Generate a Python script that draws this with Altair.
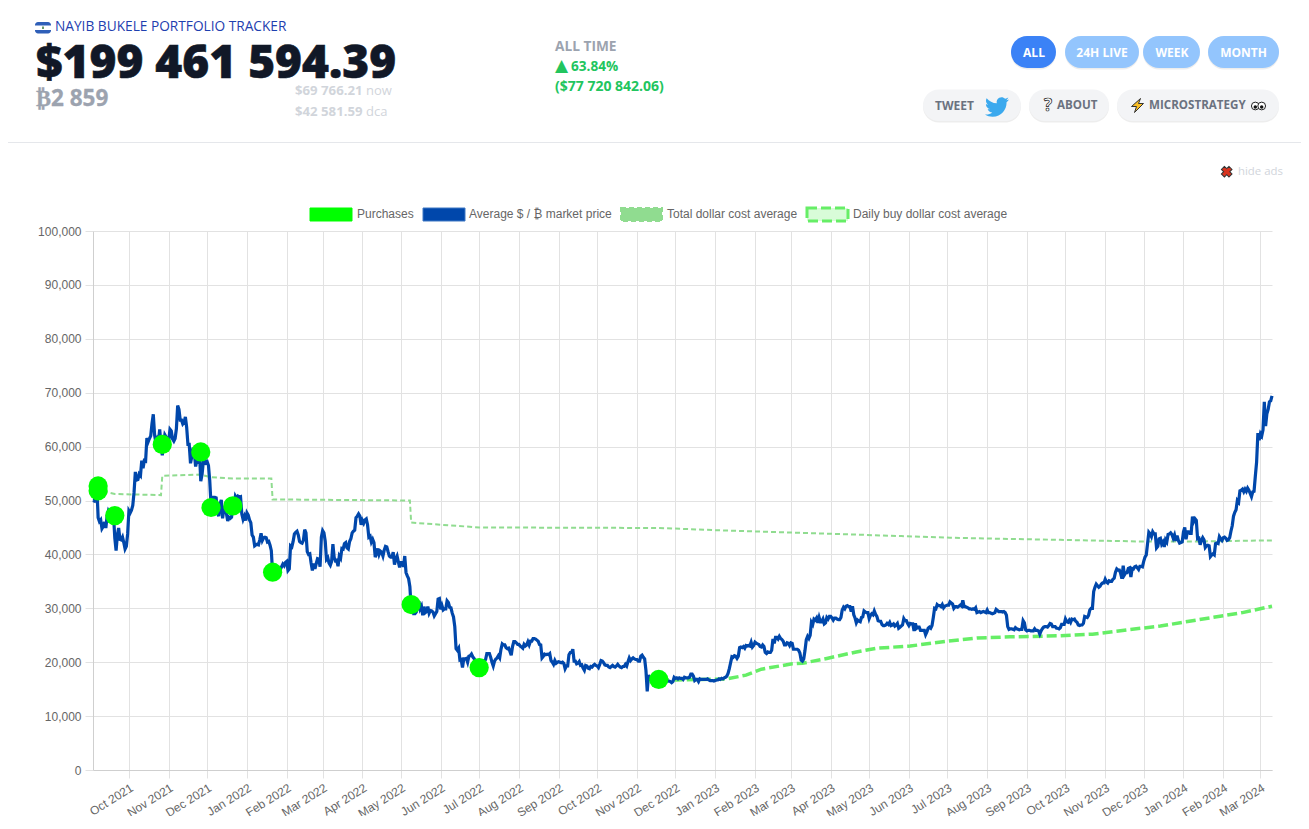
import altair as alt
import pandas as pd

# ---------- data (thousands of $) ----------
p_2021_sep = [50.0,49.9,51.8,52.7,46.8,46.1,46.4,44.8,45.2,46.0,44.9,47.1,48.1,47.7,47.3,48.3,47.3,43.0,40.7,43.6,44.9,42.8,42.7,43.2,42.2,41.0,41.5,43.8]
p_2021_oct = [48.1,47.7,48.2,49.1,51.5,55.3,53.8,53.9,54.9,54.6,57.4,56.0,57.4,57.3,61.6,60.9,61.5,62.0,64.3,66.0,62.2,60.7,61.4,60.8,63.2,60.3,58.4,60.6,62.2,61.8,61.3]
p_2021_nov = [61.0,63.2,62.9,61.4,61.0,61.5,63.3,67.6,66.9,64.9,64.9,64.2,64.5,65.5,63.6,60.4,60.4,56.9,58.1,59.8,58.7,56.3,57.5,57.2,58.9,53.6,54.8,57.2,57.8,57.0]
p_2021_dec = [57.2,56.5,53.7,49.2,49.4,50.6,50.6,50.5,47.7,47.1,49.3,50.1,46.7,48.4,48.9,47.6,46.2,46.9,46.7,46.9,49.0,48.9,50.8,50.4,50.8,50.6,50.7,47.5,46.5,47.1,46.3]
p_2022_jan = [47.7,47.3,46.4,45.9,43.6,43.2,41.6,41.8,41.9,41.8,42.7,43.9,42.6,43.1,43.2,43.1,42.3,42.4,41.7,40.7,36.5,35.1,36.3,36.7,37.0,36.8,37.2,37.7,38.2,37.9,38.5]
p_2022_feb = [38.7,37.0,37.3,41.6,41.4,42.4,43.8,44.1,44.3,43.6,42.4,42.2,42.1,42.6,44.6,44.0,40.5,40.0,40.1,38.4,37.0,38.3,37.3,38.3,39.2,39.1,37.7,43.2]
p_2022_mar = [44.4,44.0,42.5,39.1,39.4,38.4,38.0,38.7,41.9,39.4,38.8,38.9,37.8,39.7,39.3,41.1,41.0,42.0,42.2,41.2,41.0,42.4,42.9,44.0,44.3,44.5,46.8,47.1,47.5,47.1,45.5]
p_2022_apr = [46.3,45.8,46.4,46.6,45.5,43.2,43.4,42.3,42.8,42.2,39.5,40.1,41.1,40.0,40.6,40.4,39.7,40.8,41.5,41.4,40.5,39.7,39.5,39.5,40.4,38.1,39.2,39.7,38.6,37.6]
p_2022_may = [38.5,38.5,37.7,39.7,36.6,36.0,35.5,34.0,30.1,31.0,29.0,29.0,29.3,30.1,31.3,29.9,30.4,28.7,30.3,29.2,29.4,30.3,29.1,29.6,29.5,29.3,28.6,29.0,29.4,31.7,31.8]
p_2022_jun = [29.8,30.5,29.7,29.9,29.9,31.4,31.1,30.2,30.1,29.1,28.4,26.6,22.5,22.2,22.6,20.4,20.5,19.0,20.6,20.6,20.7,20.0,21.1,21.2,21.5,21.0,20.7,20.3,20.1,19.0]
p_2022_jul = [19.3,19.3,19.3,20.2,20.2,20.5,21.6,21.6,21.6,20.9,20.0,19.3,20.2,20.6,20.8,21.2,20.8,22.4,23.4,23.2,23.2,22.7,22.5,22.6,22.0,21.3,22.9,23.8,23.8,23.6,23.3]
p_2022_aug = [23.3,23.0,22.8,22.6,23.3,23.0,23.2,23.8,23.2,23.9,23.9,24.4,24.4,24.3,24.1,23.9,23.3,23.2,20.8,21.1,21.5,21.4,21.5,21.4,21.6,20.3,20.0,19.6,20.3,19.8,20.0]
p_2022_sep = [20.1,20.0,19.9,20.0,19.8,18.8,19.3,19.3,21.4,21.8,21.8,22.4,20.2,20.2,19.7,19.8,20.1,19.4,19.5,18.9,18.5,19.4,19.3,18.9,18.8,19.2,19.1,19.4,19.6,19.4]
p_2022_oct = [19.3,19.0,19.6,20.3,20.2,19.9,19.5,19.4,19.4,19.1,19.0,19.2,19.4,19.2,19.1,19.3,19.6,19.3,19.1,19.0,19.2,19.2,19.6,19.3,20.1,20.8,20.3,20.6,20.8,20.6,20.5]
p_2022_nov = [20.5,20.2,20.2,21.1,21.3,20.9,20.6,18.5,14.6,17.6,17.0,16.8,16.3,16.6,16.9,16.7,16.7,16.7,16.7,16.3,15.8,16.2,16.6,16.6,16.5,16.5,16.4,16.2,16.4,17.2]
p_2022_dec = [17.0,17.1,16.9,17.1,17.0,17.0,16.8,17.2,17.1,17.1,17.1,17.2,17.8,17.8,17.4,16.6,16.8,16.8,16.4,16.9,16.8,16.8,16.8,16.8,16.8,16.9,16.7,16.6,16.6,16.6,16.5]
p_2023_jan = [16.6,16.7,16.7,16.9,16.8,17.0,16.9,17.1,17.2,17.4,17.9,18.8,19.9,21.0,20.9,21.2,21.1,20.7,21.1,22.7,22.8,22.7,22.9,22.6,23.1,23.0,23.1,23.0,23.7,22.8,23.1]
p_2023_feb = [23.7,23.5,23.4,23.3,22.9,22.8,23.2,22.9,21.8,21.6,21.9,21.8,21.8,22.2,24.3,23.5,24.6,24.6,24.3,24.8,24.4,24.2,23.9,23.2,23.2,23.6,23.5,23.1]
p_2023_mar = [23.6,23.5,22.4,22.4,22.4,22.4,22.2,21.7,20.4,20.2,20.6,22.2,24.2,24.8,24.4,25.0,27.4,27.0,28.0,27.8,28.2,27.3,28.3,27.5,27.5,28.0,27.1,27.3,28.3,28.0,28.5]
p_2023_apr = [28.5,28.2,27.8,28.2,28.2,28.0,27.9,27.9,28.3,29.7,30.2,29.9,30.4,30.5,30.3,30.3,29.4,30.4,28.8,28.2,27.3,27.8,27.6,27.5,28.3,28.4,29.5,29.3,29.2,29.2]
p_2023_may = [28.1,28.7,29.0,28.8,29.5,28.9,28.5,27.7,27.6,27.6,27.0,26.8,26.8,26.9,27.2,27.0,27.4,26.8,26.9,27.1,26.7,26.9,27.2,26.3,26.5,26.7,26.9,28.1,27.7,27.7,27.2]
p_2023_jun = [26.8,27.2,27.1,27.1,25.8,27.2,26.3,26.5,26.5,25.9,25.9,25.9,25.9,25.1,25.6,26.3,26.5,26.3,26.8,28.3,30.0,29.9,30.7,30.5,30.5,30.3,30.7,30.1,30.4,30.5]
p_2023_jul = [30.6,30.6,31.2,31.0,30.8,30.0,30.3,30.3,30.2,30.4,30.6,30.4,31.5,30.3,30.3,30.2,30.1,29.9,29.9,29.8,29.9,29.8,30.1,29.2,29.3,29.4,29.2,29.3,29.4,29.3,29.2]
p_2023_aug = [29.7,29.2,29.2,29.1,29.0,29.1,29.2,29.8,29.6,29.4,29.4,29.4,29.3,29.4,29.2,28.7,26.6,26.1,26.2,26.2,26.1,26.0,26.4,26.2,26.1,26.0,26.1,26.1,27.7,27.3,26.0]
p_2023_sep = [25.8,25.9,25.9,25.8,25.8,25.8,26.2,25.9,25.9,25.8,25.2,25.8,26.2,26.5,26.6,26.6,26.5,26.8,27.2,27.1,26.6,26.6,26.6,26.3,26.3,26.2,26.4,27.0,27.0,27.0]
p_2023_oct = [28.0,27.5,27.4,27.8,27.4,28.0,27.9,28.0,27.6,27.4,26.9,26.8,26.9,26.9,27.2,28.5,28.4,28.3,28.7,29.7,30.0,30.0,33.1,33.9,34.5,34.2,33.9,34.1,34.5,34.7,34.7]
p_2023_nov = [35.4,34.9,34.7,35.1,35.0,35.0,35.4,35.6,36.7,37.3,37.1,37.1,36.5,35.5,37.9,36.2,36.6,36.6,37.4,37.5,35.8,37.4,37.3,37.7,37.8,37.5,37.2,37.8,37.8,37.7]
p_2023_dec = [38.7,39.5,39.9,42.0,44.1,43.8,43.3,44.2,43.8,43.8,41.2,41.5,42.9,43.0,41.9,42.3,41.4,42.7,42.3,43.7,43.8,44.0,43.7,43.0,43.6,42.5,43.5,42.6,42.1,42.2,42.3]
p_2024_jan = [44.2,45.0,42.8,44.2,44.2,43.9,43.9,47.0,46.1,46.6,46.3,42.9,43.0,41.8,42.6,43.1,42.7,41.3,41.6,41.7,41.6,39.6,39.9,40.1,39.9,42.0,42.1,42.0,43.3,42.9,42.6]
p_2024_feb = [43.1,43.2,43.0,42.6,42.7,43.1,44.3,45.3,47.1,47.8,48.3,50.0,49.7,51.8,51.9,52.1,51.6,52.1,51.7,52.3,51.9,51.3,50.7,51.6,51.7,54.5,57.1,62.5,61.2]
p_2024_mar = [62.4,62.0,63.1,68.3,63.8,66.1,66.9,68.3,68.5,69.4]

price_k = (p_2021_sep+p_2021_oct+p_2021_nov+p_2021_dec+p_2022_jan+p_2022_feb+p_2022_mar+p_2022_apr+p_2022_may+p_2022_jun
           +p_2022_jul+p_2022_aug+p_2022_sep+p_2022_oct+p_2022_nov+p_2022_dec+p_2023_jan+p_2023_feb+p_2023_mar+p_2023_apr
           +p_2023_may+p_2023_jun+p_2023_jul+p_2023_aug+p_2023_sep+p_2023_oct+p_2023_nov+p_2023_dec+p_2024_jan+p_2024_feb+p_2024_mar)

purchase_dates = ["2021-09-07","2021-09-07","2021-09-20","2021-10-27","2021-11-26","2021-12-04","2021-12-21","2022-01-21","2022-05-09","2022-07-01","2022-11-18"]
purchase_k = [52.7,51.8,47.2,60.4,59.0,48.7,49.0,36.7,30.7,19.0,16.8]

total_dates = ["2021-09-07","2021-09-08","2021-09-20","2021-10-26","2021-10-27","2021-11-26","2021-12-04","2021-12-21","2022-01-20","2022-01-21","2022-05-08","2022-05-09","2022-07-01","2022-11-18","2023-01-01","2023-01-27","2023-03-08","2023-04-17","2023-05-26","2023-07-03","2023-08-11","2023-09-27","2023-11-28","2024-01-13","2024-03-10"]
total_k = [52.7,51.9,51.2,51.0,54.6,54.8,54.3,54.1,54.1,50.2,50.0,45.9,45.0,44.9,44.5,44.3,44.0,43.7,43.4,43.1,42.9,42.7,42.4,42.4,42.6]

daily_dates = ["2022-11-18","2022-12-02","2023-01-10","2023-01-25","2023-02-06","2023-03-02","2023-03-10","2023-03-29","2023-04-21","2023-05-07","2023-06-02","2023-07-01","2023-07-24","2023-08-19","2023-09-27","2023-10-22","2023-11-18","2023-12-14","2024-01-08","2024-02-03","2024-02-16","2024-03-10"]
daily_k = [16.8,16.7,16.9,17.6,18.7,19.7,19.8,20.7,21.9,22.6,23.0,23.9,24.5,24.7,24.9,25.2,26.0,26.7,27.7,28.7,29.2,30.4]

month_ticks = [d.strftime("%Y-%m-%d") for d in pd.date_range("2021-10-01", "2024-03-01", freq="MS")]
y_ticks = list(range(0, 100001, 10000))

# ---------- styles ----------
UI = "Open Sans"
CHART = "Liberation Sans"
GRID = "#e2e2e2"
BLUE = "#0047ab"
LIME = "#00ff00"
DCA = "#90dc90"
DAILY = "#66ee66"

price_df = pd.DataFrame({"date": pd.date_range("2021-09-03", periods=len(price_k)).strftime("%Y-%m-%d"),
                         "v": [v * 1000 for v in price_k]})
purch_df = pd.DataFrame({"date": purchase_dates, "v": [v * 1000 for v in purchase_k]})
total_df = pd.DataFrame({"date": total_dates, "v": [v * 1000 for v in total_k]})
daily_df = pd.DataFrame({"date": daily_dates, "v": [v * 1000 for v in daily_k]})

x_enc = alt.X("date:T", title=None,
              scale=alt.Scale(domain=["2021-09-03", "2024-03-10"], nice=False),
              axis=alt.Axis(values=month_ticks, format="%b %Y", labelAngle=-32, labelAlign="right",
                            labelBaseline="top", labelFont=CHART, labelFontSize=12, labelColor="#666666",
                            labelPadding=4, labelOverlap=False, labelFlush=False, tickSize=8, tickColor=GRID,
                            domainColor="#cfcfcf", gridColor=GRID, grid=True))
y_enc = alt.Y("v:Q", title=None,
              scale=alt.Scale(domain=[0, 100000], nice=False),
              axis=alt.Axis(values=y_ticks, format=",d", labelFont=CHART, labelFontSize=12, labelColor="#666666",
                            labelPadding=4, tickSize=8, tickColor=GRID, domainColor="#cfcfcf",
                            gridColor=GRID, grid=True))

total_line = alt.Chart(total_df).mark_line(color=DCA, strokeWidth=2, strokeDash=[5, 3]).encode(x=x_enc, y=y_enc)
daily_line = alt.Chart(daily_df).mark_line(color=DAILY, strokeWidth=3.5, strokeDash=[10, 4]).encode(x=x_enc, y=y_enc)
price_line = alt.Chart(price_df).mark_line(color=BLUE, strokeWidth=3.2).encode(x=x_enc, y=y_enc)
purch_dots = alt.Chart(purch_df).mark_circle(color=LIME, size=370, opacity=1).encode(x=x_enc, y=y_enc)

ONE = alt.Data(values=[{"a": 1}])
PX, PY = 93, 231


def txt(s, x, y, size, color, weight="normal", font=UI, align="left", **kw):
    return alt.Chart(ONE).mark_text(text=s, align=align, baseline="middle", fontSize=size, color=color,
                                    fontWeight=weight, font=font, **kw).encode(
        x=alt.value(x - PX), y=alt.value(y - PY))


def box(x, x2, y, y2, fill, radius=0, **kw):
    return alt.Chart(ONE).mark_rect(fill=fill, cornerRadius=radius, **kw).encode(
        x=alt.value(x - PX), x2=alt.value(x2 - PX), y=alt.value(y - PY), y2=alt.value(y2 - PY))


def sym(shape, x, y, size, fill, **kw):
    return alt.Chart(ONE).mark_point(shape=shape, filled=True, fill=fill, size=size, opacity=1, **kw).encode(
        x=alt.value(x - PX), y=alt.value(y - PY))


def button(x, x2, y, y2, fill):
    return [box(x, x2, y + 1.5, y2 + 1.5, "#000000", 16, opacity=0.07), box(x, x2, y, y2, fill, 16)]


BIRD = ("M23.953 4.57a10 10 0 0 1-2.825.775 4.958 4.958 0 0 0 2.163-2.723c-.951.555-2.005.959-3.127 1.184"
        "a4.92 4.92 0 0 0-8.384 4.482C7.69 8.095 4.067 6.13 1.64 3.162a4.822 4.822 0 0 0-.666 2.475"
        "c0 1.71.87 3.213 2.188 4.096a4.904 4.904 0 0 1-2.228-.616v.06a4.923 4.923 0 0 0 3.946 4.827"
        " 4.996 4.996 0 0 1-2.212.085 4.936 4.936 0 0 0 4.604 3.417 9.867 9.867 0 0 1-6.102 2.105"
        "c-.39 0-.779-.023-1.17-.067a13.995 13.995 0 0 0 7.557 2.209c9.053 0 13.998-7.496 13.998-13.985"
        " 0-.21 0-.42-.015-.63A9.935 9.935 0 0 0 24 4.59z")
BOLT = "M3 -7 L-6 1 L-1 1 L-3 7 L6 -2 L1 -2 Z"

chrome = []
# header
chrome += [box(35, 51, 22, 33.5, "#2f5fb8", 3), box(35, 51, 25.5, 30, "#ffffff"), box(42, 44, 26.5, 29, "#6a9a6a")]
chrome += [txt("NAYIB BUKELE PORTFOLIO TRACKER", 55, 26.5, 13.7, "#1e40af")]
chrome += [txt("$199 461 594.39", 36, 63.5, 46, "#111827", weight=800, stroke="#111827", strokeWidth=0.6)]
chrome += [txt("₿2 859", 36, 98.5, 22.5, "#9ca3af", weight="bold", stroke="#9ca3af", strokeWidth=0.3)]
chrome += [txt("$69 766.21", 295, 91, 13.2, "#d1d5db", weight="bold"), txt("now", 366, 91, 13, "#d1d5db")]
chrome += [txt("$42 581.59", 295, 112, 13.2, "#d1d5db", weight="bold"), txt("dca", 366, 112, 13, "#d1d5db")]
chrome += [txt("ALL TIME", 555, 46.5, 13.7, "#9ca3af", weight="bold"),
           txt("▲", 555, 66, 17, "#22c55e", weight="bold", font="DejaVu Sans"),
           txt("63.84%", 571, 66.5, 13.6, "#22c55e", weight="bold"),
           txt("($77 720 842.06)", 555, 86.5, 14, "#22c55e", weight="bold")]
# buttons
chrome += button(1011, 1056, 36, 68, "#3b82f6") + [txt("ALL", 1034, 52.5, 12, "#ffffff", weight="bold", align="center")]
chrome += button(1065, 1139, 36, 68, "#93c5fd") + [txt("24H LIVE", 1102, 52.5, 12, "#ffffff", weight="bold", align="center")]
chrome += button(1143, 1200, 36, 68, "#93c5fd") + [txt("WEEK", 1172, 52.5, 12, "#ffffff", weight="bold", align="center")]
chrome += button(1208, 1279, 36, 68, "#93c5fd") + [txt("MONTH", 1243.5, 52.5, 12, "#ffffff", weight="bold", align="center")]
chrome += button(923, 1021, 89.5, 121, "#f3f4f6") + [txt("TWEET", 935, 105.5, 12, "#6b7280", weight="bold"),
                                                     sym(BIRD, 985, 95, 4, "#3ba9ee", strokeWidth=0)]
chrome += button(1029, 1109, 89.5, 121, "#f3f4f6") + [txt("?", 1048, 105.5, 17, "#ffffff", weight="bold", stroke="#222222", strokeWidth=0.7, align="center"),
                                                      txt("ABOUT", 1057, 105.5, 11.6, "#6b7280", weight="bold")]
chrome += button(1117, 1279, 89.5, 121, "#f3f4f6") + [sym(BOLT, 1137.5, 105.5, 4, "#fbbf24", stroke="#333333", strokeWidth=1),
                                                      txt("MICROSTRATEGY", 1149, 105.5, 11.6, "#6b7280", weight="bold"),
                                                      sym("circle", 1255.3, 106, 60, "#ffffff", stroke="#222222", strokeWidth=1),
                                                      sym("circle", 1261.7, 106, 60, "#ffffff", stroke="#222222", strokeWidth=1),
                                                      sym("circle", 1255.3, 107, 12, "#111111", strokeWidth=0),
                                                      sym("circle", 1261.7, 107, 12, "#111111", strokeWidth=0)]
# divider
chrome += [box(8, 1301, 142, 143, "#e5e7eb")]
# hide ads
chrome += [sym("cross", 1226.7, 171.7, 115, "#d8341f", angle=45, stroke="#333333", strokeWidth=1),
           txt("hide ads", 1238, 172, 11.4, "#d1d5db")]
# legend
chrome += [box(310, 352, 208, 221, LIME, stroke=LIME, strokeWidth=1),
           txt("Purchases", 357, 214, 12, "#666666", font=CHART),
           box(423, 465, 208, 221, BLUE, stroke="#3f78c4", strokeWidth=1),
           txt("Average $ / ₿ market price", 469, 214, 12, "#666666", font=CHART),
           box(621, 662, 208, 221, DCA, stroke=DCA, strokeWidth=2, strokeDash=[5, 3]),
           txt("Total dollar cost average", 667, 214, 12, "#666666", font=CHART),
           box(807, 848, 208, 221, "#d8fcd8", stroke=DAILY, strokeWidth=3, strokeDash=[10, 4]),
           txt("Daily buy dollar cost average", 853, 214, 12, "#666666", font=CHART)]

chart = alt.layer(total_line, daily_line, price_line, purch_dots, *chrome).properties(
    width=1179, height=539,
    autosize=alt.AutoSizeParams(type="none"),
    padding={"left": 85, "top": 223, "right": 29, "bottom": 46},
    background="#ffffff",
).configure_view(stroke=None)

chart.save("out.html", embed_options={"renderer": "svg", "actions": False})
